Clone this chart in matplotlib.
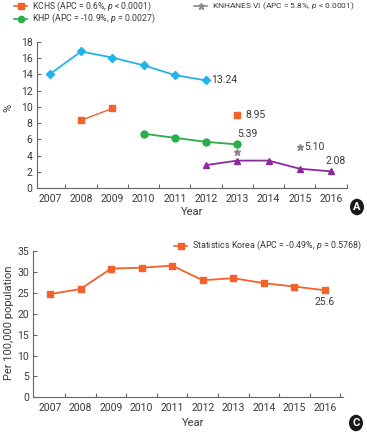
import matplotlib
matplotlib.use("Agg")
import matplotlib.pyplot as plt
import numpy as np
from matplotlib.patches import Circle

plt.rcParams['font.family'] = ['Roboto', 'DejaVu Sans']
plt.rcParams['mathtext.fontset'] = 'custom'
plt.rcParams['mathtext.it'] = 'Roboto:italic'
plt.rcParams['mathtext.rm'] = 'Roboto'

years = [2007, 2008, 2009, 2010, 2011, 2012, 2013, 2014, 2015, 2016]

# Panel A series (%)
blue_years = [2007, 2008, 2009, 2010, 2011, 2012]
blue_vals = [14.0, 16.8, 16.05, 15.1, 13.9, 13.24]
kchs_years = [2008, 2009]
kchs_vals = [8.35, 9.8]
kchs_extra_year = [2013]
kchs_extra_val = [8.95]
khp_years = [2010, 2011, 2012, 2013]
khp_vals = [6.7, 6.2, 5.7, 5.39]
knh_years = [2013, 2015]
knh_vals = [4.45, 5.10]
purple_years = [2012, 2013, 2014, 2015, 2016]
purple_vals = [2.85, 3.4, 3.4, 2.4, 2.08]

# Panel C series (per 100,000)
sk_vals = [24.7, 25.9, 30.8, 31.0, 31.5, 28.0, 28.5, 27.3, 26.5, 25.6]

legend_a = ["KCHS (APC = 0.6%, $\\it{p}$ < 0.0001)",
            "KHP (APC = -10.9%, $\\it{p}$ = 0.0027)",
            "KNHANES VI (APC = 5.8%, $\\it{p}$ < 0.0001)"]
legend_c = "Statistics Korea (APC = -0.49%, $\\it{p}$ = 0.5768)"

C_BLUE = '#22b4e6'
C_ORANGE = '#f2622a'
C_GREEN = '#2aad4a'
C_PURPLE = '#8b2a9b'
C_GRAY = '#8a8a8a'
TXT = '#3a3a3a'
AX = '#666666'
FS = 7.5

W, H = 367, 433
fig = plt.figure(figsize=(W/100, H/100), dpi=100)
renderer = fig.canvas.get_renderer()

def idx(ys):
    return [years.index(y) for y in ys]

def style_axes(ax, yticks, ylim, xlim):
    ax.set_xlim(*xlim)
    ax.set_ylim(*ylim)
    for s in ['top', 'right']:
        ax.spines[s].set_visible(False)
    for s in ['left', 'bottom']:
        ax.spines[s].set_color(AX)
        ax.spines[s].set_linewidth(0.8)
    ax.set_yticks(yticks)
    ax.set_xticks(np.arange(0.5, len(years) - 0.5 + 1e-9, 1.0))
    ax.set_xticklabels([])
    ax.set_xticks(np.arange(len(years)), minor=True)
    ax.set_xticklabels([str(y) for y in years], minor=True)
    ax.tick_params(axis='x', which='major', direction='in', length=3, color=AX, width=0.8)
    ax.tick_params(axis='x', which='minor', length=0, labelsize=FS, labelcolor=TXT, pad=4)
    ax.tick_params(axis='y', direction='in', length=3, color=AX, width=0.8,
                   labelsize=FS, labelcolor=TXT, pad=3)

# ---------- Panel A ----------
axA = fig.add_axes([36.7/W, 1 - 188.3/H, (346.7 - 36.7)/W, (188.3 - 41.7)/H])
style_axes(axA, np.arange(0, 19, 2), (0, 18), (-0.42, 9.37))

axA.plot(idx(blue_years), blue_vals, color=C_BLUE, marker='D', ms=4.5, lw=1.3)
axA.plot(idx(kchs_years), kchs_vals, color=C_ORANGE, marker='s', ms=5, lw=1.0)
axA.plot(idx(kchs_extra_year), kchs_extra_val, color=C_ORANGE, marker='s', ms=5, lw=0)
axA.plot(idx(khp_years), khp_vals, color=C_GREEN, marker='o', ms=5, lw=1.3)
axA.plot(idx(knh_years), knh_vals, color=C_GRAY, marker='*', ms=5, lw=0)
axA.plot(idx(purple_years), purple_vals, color=C_PURPLE, marker='^', ms=5, lw=1.3)

def lab(ax, x, y, txt, dx, dy, ha='left', va='center'):
    ax.annotate(txt, (x, y), xytext=(dx, dy), textcoords='offset points',
                ha=ha, va=va, fontsize=FS, color=TXT)

lab(axA, idx([2012])[0], blue_vals[-1], "13.24", 4, 0)
lab(axA, idx([2013])[0], kchs_extra_val[0], "8.95", 6, 0)
lab(axA, idx([2013])[0], khp_vals[-1], "5.39", 0, 4, va='bottom')
lab(axA, idx([2015])[0], knh_vals[-1], "5.10", 3, 0)
lab(axA, idx([2016])[0], purple_vals[-1], "2.08", -4, 4, va='bottom')

def set_labels(ax, ytxt, ypos, xpos):
    ax.set_ylabel(ytxt, fontsize=8, color=TXT, va='center', ha='center')
    ax.yaxis.set_label_coords(ypos[0]/W, 1 - ypos[1]/H, transform=fig.transFigure)
    ax.set_xlabel('Year', fontsize=8, color=TXT, va='center', ha='center')
    ax.xaxis.set_label_coords(xpos[0]/W, 1 - xpos[1]/H, transform=fig.transFigure)

set_labels(axA, '%', (8, 108), (192, 212))

def leg_entry(y0, color, marker, text, target_w, tx=None, right=None, ms=4.5, k=1.0):
    t = fig.text(0, 1 - y0/H, text, fontsize=7.0, color=TXT, va='center', ha='left')
    w = t.get_window_extent(renderer).width
    fs = 7.0 * target_w * k / w
    t.set_fontsize(fs)
    w = w * fs / 7.0
    if tx is None:
        tx = right - w
    t.set_x(tx / W)
    x0 = tx - 18
    fig.add_artist(plt.Line2D([x0/W, (x0 + 13)/W], [1 - y0/H, 1 - y0/H], color=color, lw=1.2,
                              transform=fig.transFigure))
    fig.add_artist(plt.Line2D([(x0 + 6.5)/W], [1 - y0/H], color=color, marker=marker, ms=ms,
                              lw=0, transform=fig.transFigure))

leg_entry(6, C_ORANGE, 's', legend_a[0], 116, tx=32, k=1.04)
leg_entry(18.5, C_GREEN, 'o', legend_a[1], 120, tx=32, k=1.04)
leg_entry(6, C_GRAY, '*', legend_a[2], 138, right=356, k=1.04)

# ---------- Panel C ----------
axC = fig.add_axes([33.3/W, 1 - 397.3/H, (343.3 - 33.3)/W, (397.3 - 251)/H])
style_axes(axC, np.arange(0, 36, 5), (0, 35), (-0.545, 9.6))
axC.plot(np.arange(len(years)), sk_vals, color=C_ORANGE, marker='s', ms=5, lw=1.3)
lab(axC, 9, sk_vals[-1], "25.6", 0, -5, ha='center', va='top')
set_labels(axC, 'Per 100,000 population', (9, 323), (193, 422.7))

leg_entry(245.7, C_ORANGE, 's', legend_c, 156, right=364, k=1.1)

for (cx, cy, letter) in [(357, 207, 'A'), (356, 423, 'C')]:
    fig.add_artist(Circle((cx/W, 1 - cy/H), 7/W, transform=fig.transFigure,
                          facecolor='#1a1a1a', edgecolor='none'))
    fig.text(cx/W, 1 - cy/H, letter, color='white', fontsize=8, fontweight='bold',
             ha='center', va='center')

fig.savefig('out.png', dpi=100)
